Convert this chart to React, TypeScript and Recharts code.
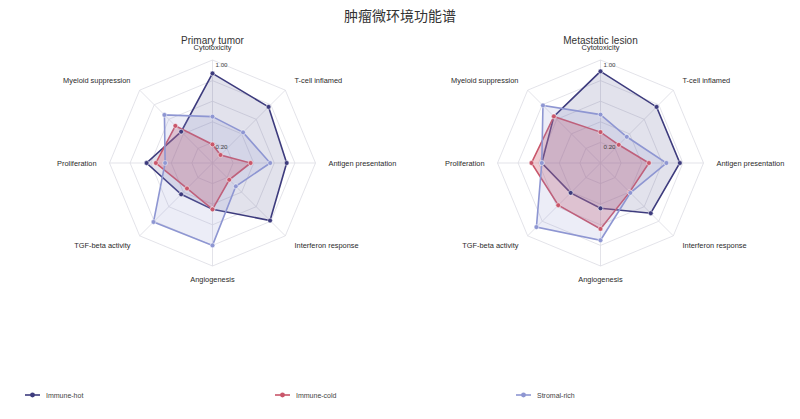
import React from "react"
import {
  RadarChart,
  Radar,
  PolarGrid,
  PolarAngleAxis,
  PolarRadiusAxis,
} from "recharts"

const FONT = "'Liberation Sans', 'Noto Sans CJK SC', Arial, sans-serif"

const chartTitle = "肿瘤微环境功能谱"
const panelTitles = ["Primary tumor", "Metastatic lesion"]

const axes = [
  "Cytotoxicity",
  "T-cell inflamed",
  "Antigen presentation",
  "Interferon response",
  "Angiogenesis",
  "TGF-beta activity",
  "Proliferation",
  "Myeloid suppression",
]

const seriesNames = ["Immune-hot", "Immune-cold", "Stromal-rich"]
const seriesColors = ["#3d3b7d", "#c9566a", "#8e96d2"]
const fillOpacity = [0.15, 0.3, 0.17]

// primary tumor
const primaryHot = [0.87, 0.77, 0.72, 0.79, 0.45, 0.43, 0.64, 0.43]
const primaryCold = [0.18, 0.11, 0.37, 0.23, 0.45, 0.35, 0.55, 0.51]
const primaryStromal = [0.45, 0.42, 0.56, 0.32, 0.8, 0.81, 0.46, 0.66]

// metastatic lesion
const metaHot = [0.89, 0.77, 0.77, 0.69, 0.44, 0.41, 0.57, 0.64]
const metaCold = [0.3, 0.25, 0.47, 0.4, 0.64, 0.58, 0.67, 0.64]
const metaStromal = [0.47, 0.36, 0.64, 0.41, 0.75, 0.88, 0.57, 0.79]

const radiusTicks = [0, 0.2, 0.4, 0.6, 0.8, 1]
const shownTicks = [0.2, 1]

const keys = ["hot", "cold", "stromal"]

function buildRows(hot: number[], cold: number[], stromal: number[]) {
  return axes.map((axis, i) => ({
    axis,
    hot: hot[i],
    cold: cold[i],
    stromal: stromal[i],
  }))
}

const panels = [
  { title: panelTitles[0], data: buildRows(primaryHot, primaryCold, primaryStromal), left: 0, cx: 212.5 },
  { title: panelTitles[1], data: buildRows(metaHot, metaCold, metaStromal), left: 400, cx: 200.5 },
]

const CY = 163
const OUTER = 103
const LABEL_R = 116

function angleTick(props: any, cx: number) {
  const { payload } = props
  const rad = (payload.coordinate * Math.PI) / 180
  const cos = Math.cos(rad)
  const x = cx + LABEL_R * cos
  const y = CY - LABEL_R * Math.sin(rad)
  const anchor = cos > 0.1 ? "start" : cos < -0.1 ? "end" : "middle"
  return (
    <text
      x={x}
      y={y}
      textAnchor={anchor}
      dominantBaseline="central"
      fontSize={7.4}
      fill="#2a2a2a"
      fontFamily={FONT}
    >
      {payload.value}
    </text>
  )
}

function radiusTick(props: any) {
  const { x, y, payload } = props
  if (!shownTicks.includes(payload.value)) return <g />
  return (
    <text x={x + 3} y={y + 4} fontSize={6.2} fill="#444" fontFamily={FONT} dominantBaseline="central">
      {Number(payload.value).toFixed(2)}
    </text>
  )
}

function Panel({ panel }: { panel: (typeof panels)[number] }) {
  return (
    <div style={{ position: "absolute", left: panel.left, top: 0 }}>
      <RadarChart
        width={400}
        height={330}
        data={panel.data}
        cx={panel.cx}
        cy={CY}
        outerRadius={OUTER}
        margin={{ top: 0, right: 0, bottom: 0, left: 0 }}
      >
        <PolarGrid gridType="polygon" stroke="#dcdce3" strokeWidth={0.8} />
        <PolarAngleAxis
          dataKey="axis"
          tick={(p: any) => angleTick(p, panel.cx)}
          tickLine={false}
          axisLine={false}
        />
        {keys.map((k, i) => (
          <Radar
            key={k}
            name={seriesNames[i]}
            dataKey={k}
            stroke={seriesColors[i]}
            strokeWidth={1.6}
            fill={seriesColors[i]}
            fillOpacity={fillOpacity[i]}
            dot={{ r: 2.4, fill: seriesColors[i], stroke: "#ffffff", strokeWidth: 0.5, fillOpacity: 1 }}
            isAnimationActive={false}
          />
        ))}
        <PolarRadiusAxis
          angle={90}
          domain={[0, 1]}
          ticks={radiusTicks}
          tick={radiusTick}
          axisLine={false}
          tickLine={false}
        />
      </RadarChart>
      <div
        style={{
          position: "absolute",
          left: panel.cx - 100,
          top: 34,
          width: 200,
          textAlign: "center",
          fontSize: 10,
          color: "#333",
          fontFamily: FONT,
          lineHeight: "14px",
        }}
      >
        {panel.title}
      </div>
    </div>
  )
}

export default function App() {
  const legendX = [25, 275, 516]
  return (
    <div
      style={{
        position: "absolute",
        left: 0,
        top: 0,
        width: 800,
        height: 419,
        background: "#fff",
        fontFamily: FONT,
      }}
    >
      <div
        style={{
          position: "absolute",
          top: 6,
          width: 800,
          textAlign: "center",
          fontSize: 14,
          color: "#333",
          lineHeight: "20px",
        }}
      >
        {chartTitle}
      </div>
      {panels.map((p) => (
        <Panel key={p.title} panel={p} />
      ))}
      {seriesNames.map((name, i) => (
        <div
          key={name}
          style={{ position: "absolute", left: legendX[i], top: 389, height: 12, display: "flex", alignItems: "center" }}
        >
          <svg width={16} height={12}>
            <line x1={0} y1={6} x2={15} y2={6} stroke={seriesColors[i]} strokeWidth={1.6} />
            <circle cx={7.5} cy={6} r={2.4} fill={seriesColors[i]} />
          </svg>
          <span style={{ marginLeft: 5, fontSize: 7, color: "#444" }}>{name}</span>
        </div>
      ))}
    </div>
  )
}
